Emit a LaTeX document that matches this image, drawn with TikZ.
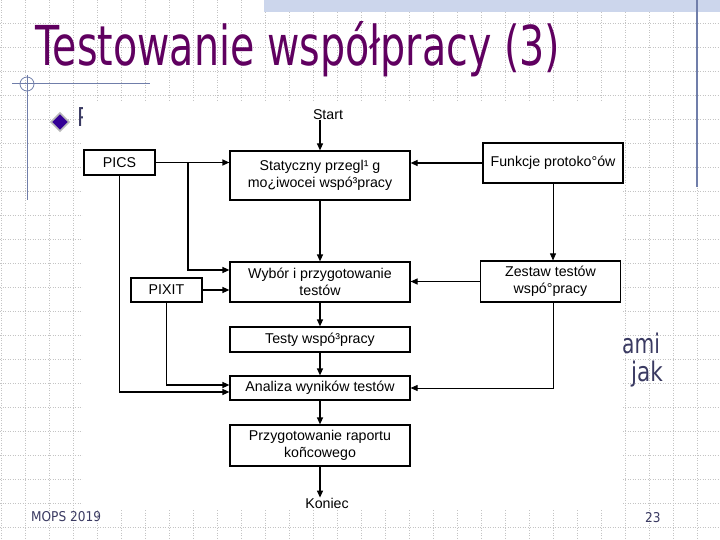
\documentclass[tikz,border=0pt]{standalone}
\usepackage{fontspec}
\setmainfont{DejaVu Sans}
\newfontfamily\arialfont{Liberation Sans}
\usetikzlibrary{calc}
\usetikzlibrary{arrows.meta}

\definecolor{tytul}{RGB}{96,0,96}
\definecolor{tekst}{RGB}{58,58,98}
\definecolor{linia}{RGB}{112,126,170}
\definecolor{siatka}{RGB}{196,196,196}
\definecolor{pasek}{RGB}{204,214,236}
\definecolor{punkt}{RGB}{52,0,150}

\tikzset{
  blok/.style={draw, line width=1.2pt, fill=white, inner sep=0pt, align=center,
    font=\arialfont\fontsize{14.2}{17}\selectfont},
  etykieta/.style={inner sep=0pt, font=\arialfont\fontsize{14.2}{17}\selectfont},
  strz/.style={-{Triangle[length=7pt,width=6pt]}, line width=1.2pt},
  cienka/.style={-{Triangle[length=7pt,width=6pt]}, line width=0.8pt},
}

\begin{document}
\begin{tikzpicture}[x=1pt,y=-1pt]
\useasboundingbox (0,0) rectangle (720,540);
\fill[white] (0,0) rectangle (720,540);
% siatka
\foreach \i in {0,...,29} {
  \draw[siatka, line width=0.8pt, dash pattern=on 1pt off 1.5pt] (1+24*\i,0) -- (1+24*\i,540);
}
\foreach \j in {1,...,22} {
  \draw[siatka, line width=0.8pt, dash pattern=on 1pt off 1.5pt] (0,24*\j-1) -- (720,24*\j-1);
}
\fill[pasek] (264,0) rectangle (720,12);
\draw[linia, line width=1.2pt] (697,0) -- (697,187);
\draw[linia, line width=1pt] (12,84) -- (150,84);
\draw[linia, line width=1pt] (27,75) -- (27,200);
\draw[linia, line width=0.8pt] (27,84) circle (7);

\node[anchor=base west, inner sep=0pt, text=tytul] (tytul) at (35,66)
  {\scalebox{0.72}[1]{\fontsize{55}{60}\selectfont Testowanie współpracy (3)}};

% punkt i resztki tekstu
\draw[fill=punkt, draw=gray!55, line width=1.5pt] (60,113) -- (69,122) -- (60,131) -- (51,122) -- cycle;
\node[anchor=base west, inner sep=0pt, text=tekst] (p) at (77,127)
  {\scalebox{0.8}[1]{\fontsize{26}{30}\selectfont P}};
\node[anchor=base west, inner sep=0pt, text=tekst] (ami) at (622,353)
  {\scalebox{0.75}[1]{\fontsize{27}{30}\selectfont ami}};
\node[anchor=base west, inner sep=0pt, text=tekst] (jak) at (631,381)
  {\scalebox{0.8}[1]{\fontsize{27}{30}\selectfont jak}};
\node[anchor=base west, inner sep=0pt, text=tekst] (mops) at (31,521)
  {\scalebox{0.9}[1]{\fontsize{13.5}{15}\selectfont MOPS 2019}};
\node[anchor=base west, inner sep=0pt, text=tekst] (nr) at (645,522)
  {\scalebox{0.9}[1]{\fontsize{13.5}{15}\selectfont 23}};

% schemat
\fill[white] (83,101) rectangle (623,510);
\node[etykieta] (start) at (328,115) {Start};
\node[blok, minimum width=180pt, minimum height=49pt] (stat) at (320,175.5)
  {Statyczny przegl¹ g\\mo¿iwocei wspó³pracy};
\node[blok, minimum width=71pt, minimum height=25pt] (pics) at (119.5,162.5) {PICS};
\node[blok, minimum width=140pt, minimum height=40pt] (funk) at (553,163) {Funkcje protoko°ów};
\node[blok, minimum width=180pt, minimum height=40pt] (wybor) at (320,282)
  {Wybór i przygotowanie\\testów};
\node[blok, minimum width=71pt, minimum height=24pt] (pixit) at (166.5,290) {PIXIT};
\node[blok, minimum width=140pt, minimum height=41pt] (zestaw) at (550.5,281.5)
  {Zestaw testów\\wspó°pracy};
\node[blok, minimum width=180pt, minimum height=25pt] (testy) at (320,339.5) {Testy wspó³pracy};
\node[blok, minimum width=180pt, minimum height=24pt] (analiza) at (320,388) {Analiza wyników testów};
\node[blok, minimum width=180pt, minimum height=41pt] (raport) at (320,445.5)
  {Przygotowanie raportu\\koñcowego};
\node[etykieta] (koniec) at (327,503) {Koniec};

\draw[strz] (start.south -| stat.north) -- (stat.north);
\foreach \a/\b in {stat/wybor, wybor/testy, testy/analiza, analiza/raport} {
  \draw[strz] (\a.south) -- (\b.north);
}
\draw[strz] (raport.south) -- (raport.south |- koniec.north);

\coordinate (rozg) at (188,162.5);
\draw[strz] (pics.east) -- (pics.east -| stat.west);
\draw[strz] (rozg) |- ($(wybor.west)+(0,-12)$);
\draw[strz] (pics.south) |- ($(analiza.west)+(0,4)$);
\draw[strz] (pixit.east) -- (pixit.east -| wybor.west);
\draw[strz] (pixit.south) |- ($(analiza.west)+(0,-3)$);

\draw[strz] (funk.west) -- (funk.west -| stat.east);
\draw[cienka] (funk.south) -- (funk.south |- zestaw.north);
\draw[strz] (zestaw.west) -- (zestaw.west -| wybor.east);
\draw[cienka] (zestaw.south -| funk.south) |- (analiza.east);
\end{tikzpicture}
\end{document}
